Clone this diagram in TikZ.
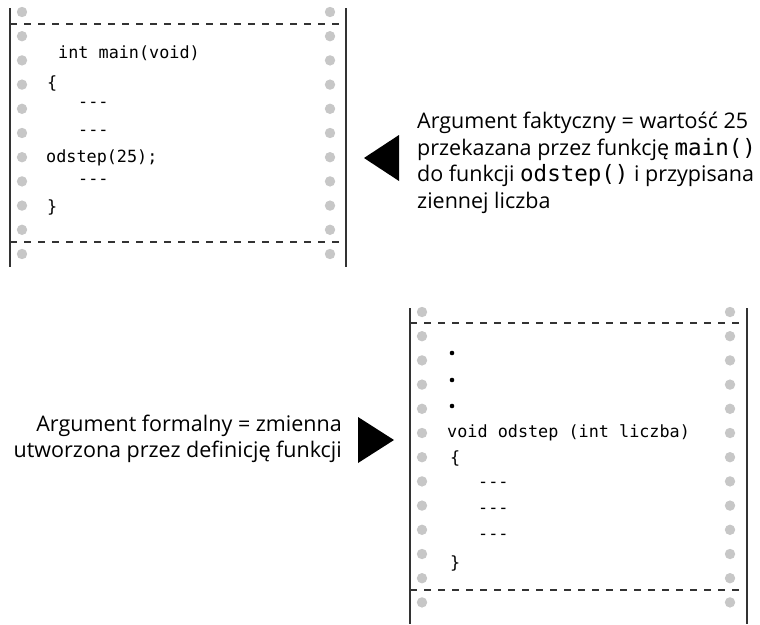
\documentclass[tikz,border=0pt]{standalone}
\usepackage{fontspec}
\setmainfont{Open Sans}
\setmonofont{DejaVu Sans Mono}
\tikzset{hole/.style = {fill=black!22},
    code/.style = {anchor=west, inner sep=0pt, font=\fontsize{16.8}{16.8}\ttfamily},
    txt/.style = {inner sep=0pt, font=\fontsize{21.5}{26.5}\selectfont},
    edge/.style = {draw=black!80, line width=1.2pt},
    cut/.style = {draw=black!80, line width=1.2pt, dash pattern=on 7pt off 7pt}}
\newcommand{\ct}[1]{{\fontsize{22.5}{26.5}\ttfamily #1}}

\begin{document}
\begin{tikzpicture}[x=1pt, y=-1pt]
        \useasboundingbox (0,0) rectangle (760,624);

        % calling function
        \foreach \i in {0,...,10} {
            \fill[hole] (22, 12+24.2*\i) circle [radius=5.2pt];
            \fill[hole] (330, 12+24.2*\i) circle [radius=5.2pt];
        }
        \draw[edge] (10,8) -- (10,267);
        \draw[edge] (346,8) -- (346,267);
        \draw[cut] (10,24) -- (346,24);
        \draw[cut] (10,242) -- (346,242);

        \node[code] (main) at (58,53) {int main(void)};
        \node[code] (ob1) at (47,83) {\{};
        \foreach \n/\y in {d1/105, d2/133, d3/182} \node[code] (\n) at (78,\y) {-{}-{}-};
        \node[code] (call) at (46,158) {odstep(25);};
        \node[code] (cb1) at (47,207) {\}};

        \fill (364,158) -- (399,135) -- (399,181) -- cycle;
        \node[txt, anchor=north west, align=left] (fakt) at (417,112)
            {Argument faktyczny = wartość 25\\
             przekazana przez funkcję \ct{main()}\\
             do funkcji \ct{odstep()} i przypisana\\
             ziennej liczba};

        % called function
        \foreach \i in {0,...,12} {
            \fill[hole] (422, 312+24.2*\i) circle [radius=5.2pt];
            \fill[hole] (730, 312+24.2*\i) circle [radius=5.2pt];
        }
        \draw[edge] (410,308) -- (410,624);
        \draw[edge] (747,308) -- (747,624);
        \draw[cut] (410,323) -- (747,323);
        \draw[cut] (410,590) -- (747,590);

        \foreach \n/\y in {p1/353, p2/380, p3/406} \fill (452,\y) circle [radius=2.3pt];
        \node[code] (def) at (447,433) {void odstep (int liczba)};
        \node[code] (ob2) at (450,458) {\{};
        \foreach \n/\y in {e1/485, e2/511, e3/537} \node[code] (\n) at (478,\y) {-{}-{}-};
        \node[code] (cb2) at (450,563) {\}};

        \fill (394,440) -- (358,417) -- (358,463) -- cycle;
        \node[txt, anchor=east, align=right] (form) at (342,439)
            {Argument formalny = zmienna\\
             utworzona przez definicję funkcji};
\end{tikzpicture}
\end{document}
